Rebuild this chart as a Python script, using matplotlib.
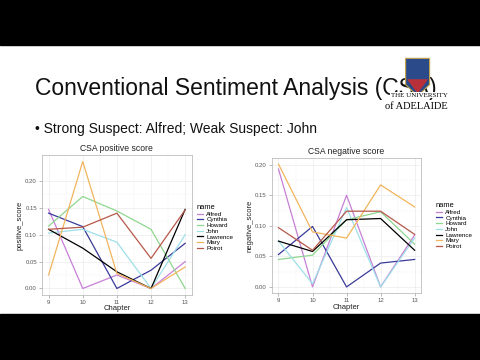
import matplotlib
matplotlib.use("Agg")
import matplotlib.pyplot as plt
from matplotlib.patches import Rectangle, Polygon

plt.rcParams['font.family'] = ['Liberation Sans', 'DejaVu Sans']

chapters = [9, 10, 11, 12, 13]
names = ['Alfred', 'Cynthia', 'Howard', 'John', 'Lawrence', 'Mary', 'Poirot']
colors = ['#c77fd6', '#3a3a9a', '#8fd68f', '#9ee0e8', '#000000', '#f2b45c', '#b5584a']

positive = {
    'Alfred':   [0.147, 0.0, 0.025, 0.0, 0.050],
    'Cynthia':  [0.140, 0.115, 0.0, 0.034, 0.084],
    'Howard':   [0.116, 0.171, 0.144, 0.110, 0.0],
    'John':     [0.103, 0.110, 0.086, 0.0, 0.100],
    'Lawrence': [0.110, 0.075, 0.031, 0.0, 0.147],
    'Mary':     [0.025, 0.236, 0.028, 0.0, 0.040],
    'Poirot':   [0.110, 0.114, 0.140, 0.056, 0.146],
}
negative = {
    'Alfred':   [0.193, 0.0, 0.150, 0.0, 0.085],
    'Cynthia':  [0.053, 0.099, 0.0, 0.039, 0.045],
    'Howard':   [0.045, 0.052, 0.110, 0.123, 0.070],
    'John':     [0.075, 0.005, 0.130, 0.0, 0.080],
    'Lawrence': [0.075, 0.058, 0.110, 0.112, 0.060],
    'Mary':     [0.201, 0.090, 0.080, 0.167, 0.131],
    'Poirot':   [0.097, 0.060, 0.124, 0.124, 0.086],
}

fig = plt.figure(figsize=(4.8, 3.6), dpi=100)
fig.patch.set_facecolor('white')

# black letterbox bars
fig.add_artist(Rectangle((0, 0.875), 1, 0.125, transform=fig.transFigure, color='black', zorder=0))
fig.add_artist(Rectangle((0, 0), 1, 0.127, transform=fig.transFigure, color='black', zorder=0))

fig.text(0.073, 0.755, 'Conventional Sentiment Analysis (CSA)', fontsize=16.5, va='center', color='#111111')
fig.text(0.073, 0.643, '\u2022 Strong Suspect: Alfred; Weak Suspect: John', fontsize=10, va='center', color='#111111')

# logo (rough), drawn over the title like in the slide
shield = Polygon([[0.845, 0.838], [0.895, 0.838], [0.895, 0.765], [0.87, 0.733], [0.845, 0.765]],
                 closed=True, transform=fig.transFigure, facecolor='#2b4a8a', edgecolor='#c9a54a',
                 lw=0.8, zorder=5)
fig.add_artist(shield)
fig.add_artist(Polygon([[0.848, 0.78], [0.892, 0.78], [0.87, 0.74]], closed=True,
                       transform=fig.transFigure, facecolor='#b8303a', lw=0, zorder=6))
fig.text(0.932, 0.736, 'THE UNIVERSITY', fontsize=5, ha='right', va='center',
         family='Liberation Serif', zorder=6,
         bbox=dict(facecolor='white', edgecolor='none', pad=0.3))
fig.text(0.932, 0.705, 'of ADELAIDE', fontsize=7.5, ha='right', va='center', family='Liberation Serif')


def draw(rect, data, title, ylabel, ymax, leg_xy):
    ax = fig.add_axes(rect)
    lines = []
    for n, c in zip(names, colors):
        ln, = ax.plot(chapters, data[n], color=c, lw=0.9, label=n)
        lines.append(ln)
    pad = ymax * 0.05
    ax.set_ylim(-pad, ymax + pad)
    ax.set_xlim(8.8, 13.2)
    ax.set_xticks(chapters)
    ax.set_yticks([0, 0.05, 0.10, 0.15, 0.20])
    ax.set_yticklabels(['0.00', '0.05', '0.10', '0.15', '0.20'])
    ax.set_yticks([0.025, 0.075, 0.125, 0.175], minor=True)
    ax.set_xticks([9.5, 10.5, 11.5, 12.5], minor=True)
    ax.grid(True, which='major', color='#ebebeb', lw=0.5)
    ax.grid(True, which='minor', color='#f4f4f4', lw=0.3)
    ax.set_axisbelow(True)
    for s in ax.spines.values():
        s.set_color('#b0b0b0')
        s.set_linewidth(0.5)
    ax.tick_params(which='major', labelsize=4.3, labelcolor='#555555', color='#888888', length=2, width=0.4, pad=1.5)
    ax.tick_params(which='minor', length=0)
    ax.set_xlabel('Chapter', fontsize=5.5, labelpad=0.5, color='#222222')
    ax.set_ylabel(ylabel, fontsize=5.5, labelpad=1, color='#222222')
    ax.set_title(title, fontsize=6.2, pad=3, color='#222222')
    leg = fig.legend(handles=lines, loc='upper left', bbox_to_anchor=leg_xy, frameon=False,
                     title='name', fontsize=4.5, title_fontsize=5.4, handlelength=1.0,
                     handletextpad=0.5, labelspacing=0.05, borderaxespad=0)
    leg._legend_box.align = 'left'
    return ax


draw([0.087, 0.181, 0.313, 0.388], positive, 'CSA positive score', 'positive_score', 0.236, (0.405, 0.44))
draw([0.566, 0.186, 0.312, 0.375], negative, 'CSA negative score', 'negative_score', 0.201, (0.903, 0.445))

fig.savefig('out.png', dpi=100, facecolor='white')
